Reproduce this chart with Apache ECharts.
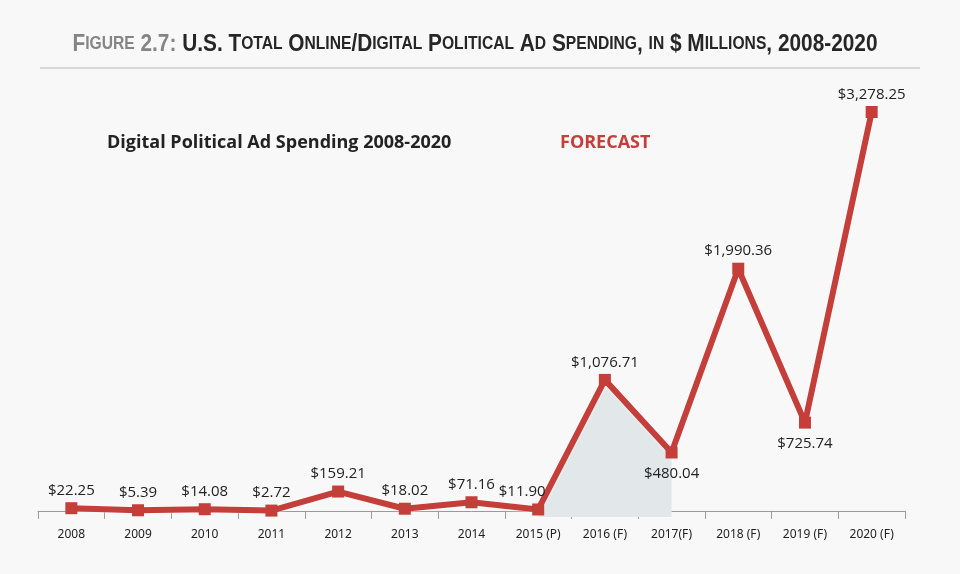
<!DOCTYPE html>
<html>
<head>
<meta charset="utf-8">
<script src="https://cdn.jsdelivr.net/npm/echarts@6/dist/echarts.min.js"></script>
<style>
html,body{margin:0;padding:0;background:#f8f8f8;}
#c{width:960px;height:574px;}
</style>
</head>
<body>
<div id="c"></div>
<script>
var categories = ['2008','2009','2010','2011','2012','2013','2014','2015 (P)','2016 (F)','2017(F)','2018 (F)','2019 (F)','2020 (F)'];
var spending = [22.25, 5.39, 14.08, 2.72, 159.21, 18.02, 71.16, 11.90, 1076.71, 480.04, 1990.36, 725.74, 3278.25];
var labelBelow = ['2017(F)', '2019 (F)'];
var shadedFrom = '2015 (P)';
var shadedTo = '2017(F)';
var titleGray = 'Figure 2.7: ';
var titleDark = 'U.S. Total Online/Digital Political Ad Spending, in $ Millions, 2008-2020';
var subtitle = 'Digital Political Ad Spending 2008-2020';
var forecastText = 'FORECAST';

var RED = '#c43e3a';
var TFONT = '"Liberation Sans",Arial,sans-serif';
var BIG = 24, SMALL = 18, TITLE_WIDTH = 805;

function smallCaps(str, big, small) {
  var segs = [], buf = '', mode = null;
  function flush() { if (buf) { segs.push([mode, buf]); buf = ''; } }
  for (var i = 0; i < str.length; i++) {
    var ch = str[i];
    var m = (ch >= 'a' && ch <= 'z') ? small : big;
    if (m !== mode) { flush(); mode = m; }
    buf += ch.toUpperCase();
  }
  flush();
  return segs;
}
var segs = smallCaps(titleGray, 'gb', 'gs').concat(smallCaps(titleDark, 'db', 'ds'));
var titleRich = segs.map(function (s) { return '{' + s[0] + '|' + s[1] + '}'; }).join('');

// measure natural width to compress it like the condensed original face
var cv = document.createElement('canvas').getContext('2d');
var natural = 0;
segs.forEach(function (s) {
  var size = (s[0] === 'gb' || s[0] === 'db') ? BIG : SMALL;
  cv.font = 'bold ' + size + 'px "Liberation Sans",Arial,sans-serif';
  natural += cv.measureText(s[1]).width;
});
var titleScale = TITLE_WIDTH / natural;

function fmt(v) {
  var parts = v.toFixed(2).split('.');
  parts[0] = parts[0].replace(/\B(?=(\d{3})+(?!\d))/g, ',');
  return '$' + parts.join('.');
}

var i0 = categories.indexOf(shadedFrom), i1 = categories.indexOf(shadedTo);
var shaded = spending.map(function (v, i) { return (i >= i0 && i <= i1) ? v : null; });

var labelShift = { '2015 (P)': [-16, 0] };
var mainData = spending.map(function (v, i) {
  var below = labelBelow.indexOf(categories[i]) >= 0;
  return {
    value: v,
    label: {
      position: below ? 'bottom' : 'top',
      distance: below ? 8 : 4,
      offset: labelShift[categories[i]] || [0, 0]
    }
  };
});

var chart = echarts.init(document.getElementById('c'), null, { renderer: 'canvas' });
chart.setOption({
  backgroundColor: '#f8f8f8',
  animation: false,
  title: [{
    text: subtitle,
    left: 102,
    top: 129,
    textStyle: { fontFamily: '"Open Sans",sans-serif', fontSize: 18, fontWeight: 'bold', color: '#222' }
  }, {
    text: forecastText,
    left: 555,
    top: 129,
    textStyle: { fontFamily: '"Open Sans",sans-serif', fontSize: 18, fontWeight: 'bold', color: RED }
  }],
  graphic: [{
    type: 'text',
    x: 475,
    y: 44,
    originX: 0,
    scaleX: titleScale,
    style: {
      text: titleRich,
      align: 'center',
      verticalAlign: 'middle',
      rich: {
        gb: { fontFamily: TFONT, fontSize: BIG, fontWeight: 'bold', fill: '#858585' },
        gs: { fontFamily: TFONT, fontSize: SMALL, fontWeight: 'bold', fill: '#858585' },
        db: { fontFamily: TFONT, fontSize: BIG, fontWeight: 'bold', fill: '#262626' },
        ds: { fontFamily: TFONT, fontSize: SMALL, fontWeight: 'bold', fill: '#262626' }
      }
    }
  }, {
    type: 'line',
    shape: { x1: 40, y1: 68, x2: 920, y2: 68 },
    style: { stroke: '#d8d8d8', lineWidth: 2 }
  }],
  grid: { left: 38, right: 55, top: 112, bottom: 57 },
  xAxis: {
    type: 'category',
    data: categories,
    boundaryGap: true,
    axisLine: { lineStyle: { color: '#9a9a9a', width: 1 } },
    axisTick: { show: true, length: 8, lineStyle: { color: '#9a9a9a' } },
    axisLabel: { fontFamily: '"Noto Sans",sans-serif', fontSize: 12, color: '#222', margin: 12 }
  },
  yAxis: {
    type: 'value',
    min: -50,
    max: 3278.25,
    show: false,
    splitLine: { show: false }
  },
  series: [{
    type: 'line',
    data: shaded,
    symbol: 'none',
    lineStyle: { width: 0 },
    areaStyle: { color: '#e2e8ea', opacity: 1, origin: 'start' },
    z: 1,
    silent: true
  }, {
    type: 'line',
    data: mainData,
    symbol: 'rect',
    symbolSize: 12,
    itemStyle: { color: RED },
    lineStyle: { color: RED, width: 6, shadowColor: 'rgba(255,255,255,0.9)', shadowBlur: 3 },
    label: {
      show: true,
      formatter: function (p) { return fmt(p.value); },
      fontFamily: '"Open Sans",sans-serif',
      fontSize: 15,
      color: '#222'
    },
    z: 3
  }]
});
</script>
</body>
</html>
